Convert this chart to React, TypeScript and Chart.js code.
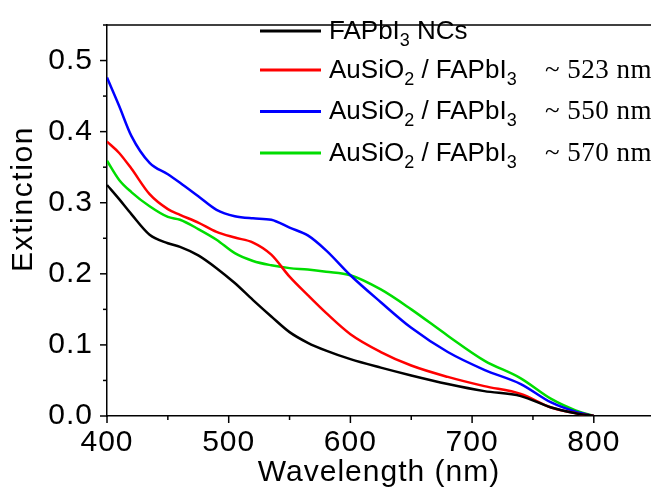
import React, { useEffect, useRef } from "react";
import { Chart, registerables } from "chart.js";

Chart.register(...registerables);

// ---- data ----
const wavelengths = [400, 410, 420, 435, 450, 460, 475, 490, 505, 520, 535, 550, 565, 580, 600, 625, 650, 680, 710, 740, 765, 785, 800];
const fapbi3NCs = [0.325, 0.305, 0.284, 0.255, 0.243, 0.238, 0.226, 0.208, 0.187, 0.163, 0.140, 0.118, 0.103, 0.092, 0.080, 0.068, 0.057, 0.045, 0.035, 0.028, 0.012, 0.004, 0.0];
const auSiO2_523 = [0.386, 0.370, 0.348, 0.312, 0.291, 0.283, 0.272, 0.259, 0.251, 0.244, 0.227, 0.196, 0.170, 0.145, 0.115, 0.090, 0.071, 0.055, 0.042, 0.031, 0.012, 0.004, 0.0];
const auSiO2_550 = [0.476, 0.436, 0.394, 0.356, 0.340, 0.328, 0.309, 0.290, 0.281, 0.278, 0.276, 0.265, 0.254, 0.233, 0.198, 0.160, 0.124, 0.090, 0.065, 0.045, 0.019, 0.006, 0.0];
const auSiO2_570 = [0.359, 0.332, 0.315, 0.295, 0.280, 0.276, 0.263, 0.248, 0.229, 0.218, 0.212, 0.208, 0.206, 0.203, 0.198, 0.178, 0.150, 0.113, 0.078, 0.053, 0.024, 0.008, 0.0];

const seriesColors = ["#000000", "#ff0000", "#0000ff", "#00dd00"];
const seriesLabels = ["FAPbI3 NCs", "AuSiO2 / FAPbI3 ~ 523 nm", "AuSiO2 / FAPbI3 ~ 550 nm", "AuSiO2 / FAPbI3 ~ 570 nm"];
// legend segments: [text, kind] kind: n = normal, s = subscript, r = serif
const legendParts: [string, string][][] = [
  [["FAPbI", "n"], ["3", "s"], [" NCs", "n"]],
  [["AuSiO", "n"], ["2", "s"], [" / FAPbI", "n"], ["3", "s"], ["~ 523 nm", "r"]],
  [["AuSiO", "n"], ["2", "s"], [" / FAPbI", "n"], ["3", "s"], ["~ 550 nm", "r"]],
  [["AuSiO", "n"], ["2", "s"], [" / FAPbI", "n"], ["3", "s"], ["~ 570 nm", "r"]],
];

const xMin = 400;
const xMax = 847;
const yMin = 0;
const yMax = 0.55;
const xTitle = "Wavelength (nm)";
const yTitle = "Extinction";

const SANS = "'Liberation Sans', Arial, sans-serif";
const SERIF = "'Liberation Serif', 'Times New Roman', serif";

const spacingPlugin = {
  id: "spacing",
  beforeUpdate(chart: any) {
    chart.ctx.letterSpacing = "1px";
  },
  beforeDraw(chart: any) {
    chart.ctx.letterSpacing = "1px";
  },
};

const framePlugin = {
  id: "frame",
  afterDraw(chart: any) {
    const ctx = chart.ctx;
    const area = chart.chartArea;
    const xs = chart.scales.x;
    const ys = chart.scales.y;
    ctx.save();
    ctx.strokeStyle = "#000";
    ctx.lineWidth = 1.5;
    xs.ticks.forEach((t: any) => {
      const px = xs.getPixelForValue(t.value);
      const major = Math.abs(t.value / 100 - Math.round(t.value / 100)) < 1e-6;
      ctx.beginPath();
      ctx.moveTo(px, area.bottom);
      ctx.lineTo(px, area.bottom + (major ? 7 : 4));
      ctx.stroke();
    });
    ys.ticks.forEach((t: any) => {
      const py = ys.getPixelForValue(t.value);
      const major = Math.abs(t.value * 10 - Math.round(t.value * 10)) < 1e-6;
      ctx.beginPath();
      ctx.moveTo(area.left, py);
      ctx.lineTo(area.left - (major ? 7 : 4), py);
      ctx.stroke();
    });
    ctx.beginPath();
    ctx.moveTo(area.left, area.top);
    ctx.lineTo(area.right, area.top);
    ctx.stroke();
    // y-axis title
    ctx.translate(24, 199);
    ctx.rotate(-Math.PI / 2);
    ctx.font = `30px ${SANS}`;
    ctx.letterSpacing = "1.6px";
    ctx.fillStyle = "#000";
    ctx.textAlign = "center";
    ctx.textBaseline = "middle";
    ctx.fillText(yTitle, 0, 0);
    ctx.restore();
  },
};

const legendPlugin = {
  id: "customLegend",
  afterDraw(chart: any) {
    const ctx = chart.ctx;
    ctx.save();
    ctx.letterSpacing = "0px";
    const rowY = [31, 70, 111.5, 153];
    const lineX0 = 260;
    const lineX1 = 321;
    const textX = 329;
    const serifX = 545;
    legendParts.forEach((parts, i) => {
      const y = rowY[i];
      ctx.strokeStyle = seriesColors[i];
      ctx.lineWidth = 3;
      ctx.beginPath();
      ctx.moveTo(lineX0, y);
      ctx.lineTo(lineX1, y);
      ctx.stroke();
      let x = textX;
      const base = y + 7.5;
      ctx.fillStyle = "#000";
      ctx.textBaseline = "alphabetic";
      ctx.textAlign = "left";
      parts.forEach(([txt, kind]) => {
        if (kind === "n") {
          ctx.font = `26px ${SANS}`;
          ctx.fillText(txt, x, base);
          x += ctx.measureText(txt).width;
        } else if (kind === "s") {
          ctx.font = `18px ${SANS}`;
          ctx.fillText(txt, x, base + 7);
          x += ctx.measureText(txt).width;
        } else {
          ctx.font = `27px ${SERIF}`;
          ctx.letterSpacing = "0.5px";
          ctx.fillText(txt, serifX, base);
          ctx.letterSpacing = "0px";
        }
      });
    });
    ctx.restore();
  },
};

export default function App() {
  const canvasRef = useRef<HTMLCanvasElement | null>(null);

  useEffect(() => {
    const canvas = canvasRef.current;
    if (!canvas) return;
    const mk = (vals: number[]) => wavelengths.map((w, i) => ({ x: w, y: vals[i] }));
    const allSeries = [fapbi3NCs, auSiO2_523, auSiO2_550, auSiO2_570];
    const chart = new Chart(canvas, {
      type: "line",
      data: {
        datasets: allSeries.map((vals, i) => ({
          label: seriesLabels[i],
          data: mk(vals),
          borderColor: seriesColors[i],
          backgroundColor: seriesColors[i],
          borderWidth: 2.5,
          pointRadius: 0,
          cubicInterpolationMode: "monotone" as const,
          fill: false,
        })),
      },
      options: {
        animation: false,
        responsive: false,
        devicePixelRatio: 1,
        layout: { padding: { top: 5, right: 0, left: 0, bottom: 0 } },
        plugins: {
          legend: { display: false },
          tooltip: { enabled: false },
        },
        scales: {
          x: {
            type: "linear",
            min: xMin,
            max: xMax,
            afterFit: (s: any) => {
              s.height = 77;
            },
            border: { display: true, color: "#000", width: 1.5 },
            grid: { display: true, drawOnChartArea: false, drawTicks: true, tickLength: 7, tickColor: "rgba(0,0,0,0)" },
            ticks: {
              stepSize: 50,
              includeBounds: false,
              autoSkip: false,
              maxRotation: 0,
              padding: 2,
              color: "#000",
              font: { family: SANS, size: 30 },
              callback: (v: any) => (Math.abs(v / 100 - Math.round(v / 100)) < 1e-6 ? String(Math.round(v)) : ""),
            },
            title: {
              display: true,
              text: xTitle,
              color: "#000",
              font: { family: SANS, size: 30 },
              padding: { top: 0, bottom: 2 },
            },
          },
          y: {
            type: "linear",
            min: yMin,
            max: yMax,
            afterFit: (s: any) => {
              s.width = 107;
            },
            border: { display: true, color: "#000", width: 1.5 },
            grid: { display: true, drawOnChartArea: false, drawTicks: true, tickLength: 7, tickColor: "rgba(0,0,0,0)" },
            ticks: {
              stepSize: 0.05,
              includeBounds: false,
              autoSkip: false,
              padding: 7,
              color: "#000",
              font: { family: SANS, size: 30 },
              callback: (v: any) => (Math.abs(v * 10 - Math.round(v * 10)) < 1e-6 && v < 0.52 ? Number(v).toFixed(1) : ""),
            },
            title: { display: false, text: yTitle },
          },
        },
      },
      plugins: [spacingPlugin, framePlugin, legendPlugin],
    } as any);
    return () => chart.destroy();
  }, []);

  return (
    <div style={{ position: "absolute", left: 0, top: 0, width: 651, height: 493, background: "#fff" }}>
      <canvas ref={canvasRef} width={651} height={493} style={{ display: "block" }} />
    </div>
  );
}
